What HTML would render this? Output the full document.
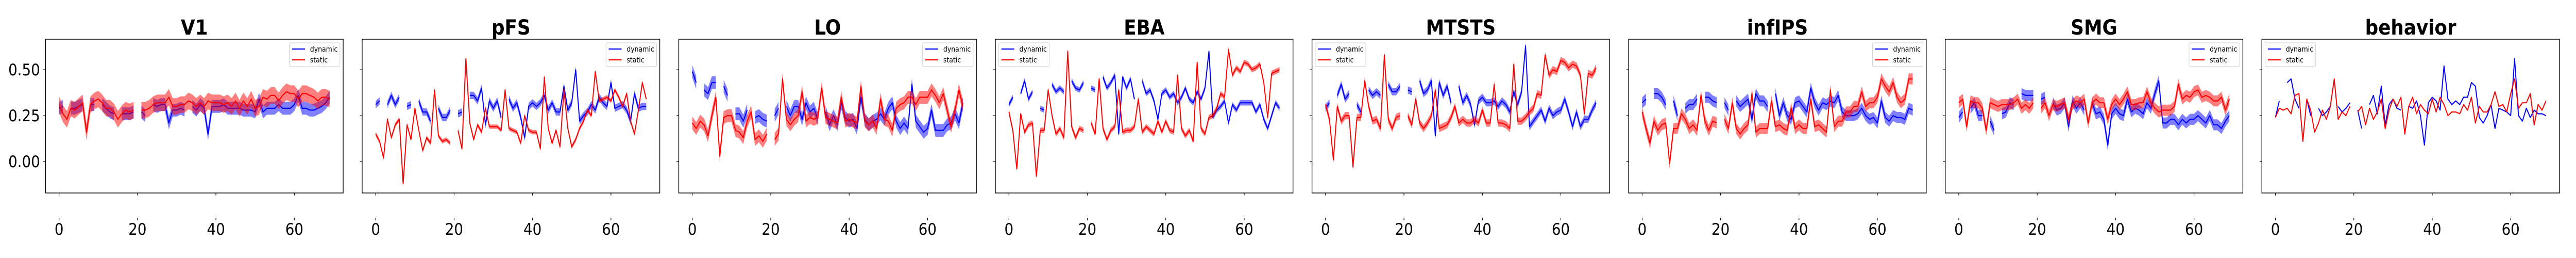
<!DOCTYPE html>
<html><head><meta charset="utf-8"><style>
html,body{margin:0;padding:0;background:#fff;overflow:hidden;width:100%;height:100%;}
svg{display:block;width:100vw;height:100vh;font-family:"DejaVu Sans","Liberation Sans",sans-serif;}
</style></head><body>
<svg id="chart" viewBox="0 0 5600 500" preserveAspectRatio="none" xmlns="http://www.w3.org/2000/svg"></svg>
<script>
const titles = ["V1","pFS","LO","EBA","MTSTS","infIPS","SMG","behavior"];
const yTicks = [0, 0.25, 0.5];
const yTickLabels = ["0.00","0.25","0.50"];
const xTicks = [0, 20, 40, 60];
const errDyn = [0.035,0.02,0.035,0.015,0.02,0.03,0.03,0];
const errSta = [0.045,0.012,0.035,0.015,0.02,0.03,0.03,0];
const legendLeft = [false,false,false,true,true,false,false,true];
const n = null;
const dyn0 = [.29,.30,n,.29,.29,.30,.31,n,.31,.31, n,.31,.29,.27,.26,n,.26,.26,.26,.27, n,.27,.25,n,.31,.30,.31,.31,.21,.28, .28,.29,.28,n,.30,.28,.31,.29,.15,.30, .30,.30,.31,.29,.29,.29,.29,.28,.28,.28, .27,.34,.27,.29,.29,.29,.31,.29,.29,.29, .31,.36,.29,.29,.28,.28,.29,.30,.32,.35];
const sta0 = [.31,.26,.23,.29,.28,.30,.32,.16,.31,.33, .34,.32,.29,.29,.27,.23,.26,.28,.27,.28, n,.28,.28,.29,.31,.32,.32,.32,.35,.30, .30,.31,.31,.33,.32,.30,.32,.30,.33,.32, .32,.32,.31,.32,.30,.33,.29,.33,.30,.34, .29,.30,.35,.34,.36,.36,.33,.36,.38,.37, .37,.34,.37,.37,.36,.35,.33,.35,.35,.34];
const dyn1 = [.31,.33,n,.31,.36,.31,.35,n,.30,.31, n,.33,.27,.27,.22,n,.29,.24,.24,.28, n,.26,.27,n,.36,.36,.33,.40,.20,.33, .29,.33,.24,n,.34,.29,.32,.24,.13,.30, .32,.30,.32,.36,.28,.32,.27,.27,.41,.28, .32,.50,.22,.25,.27,.31,.28,.35,.32,.30, .43,.29,.30,.31,.28,.22,.37,.29,.30,.30];
const sta1 = [.15,.11,.02,.23,.13,.20,.23,-.12,.20,.12, .29,.17,.06,.13,.10,.39,.14,.11,.12,.10, n,.17,.07,.56,.21,.12,.20,.16,.29,.19, .19,.19,.17,.39,.18,.17,.16,.10,.25,.17, .16,.16,.07,.46,.18,.10,.17,.08,.39,.18, .08,.12,.18,.22,.28,.25,.49,.33,.34,.35, .33,.39,.35,.30,.37,.22,.15,.28,.43,.34];
const dyn2 = [.49,.43,n,.39,.37,.43,.43,n,.41,.36, n,.26,.26,.22,.28,n,.24,.25,.23,.22, n,.25,.29,n,.30,.25,.30,.30,.23,.32, .27,.29,.23,n,.27,.20,.25,.20,.32,.24, .22,.23,.18,.35,.23,.20,.22,.23,.26,.23, .29,.32,.22,.18,.21,.18,.42,.22,.19,.16, .18,.28,.17,.17,.17,.20,.21,.26,.21,.32];
const sta2 = [.21,.18,.22,.20,.14,.25,.35,.03,.24,.25, .25,.17,.16,.13,.22,.27,.12,.14,.11,.15, n,.12,.15,.45,.23,.20,.23,.25,.38,.22, .24,.23,.24,.40,.24,.23,.22,.21,.35,.22, .23,.22,.21,.41,.22,.20,.22,.18,.34,.23, .22,.17,.29,.31,.32,.35,.35,.31,.35,.35, .35,.39,.36,.32,.37,.28,.19,.28,.39,.30];
const dyn3 = [.31,.35,n,.37,.44,.34,.38,n,.29,.28, n,.42,.38,.40,.38,n,.44,.40,.39,.43, n,.40,.39,n,.46,.40,.43,.47,.15,.46, .40,.45,.34,n,.44,.37,.39,.33,.23,.37, .39,.35,.37,.32,.35,.40,.34,.32,.38,.34, .40,.60,.24,.28,.30,.33,.21,.31,.28,.32, .32,.32,.32,.27,.31,.23,.18,.25,.32,.29];
const sta3 = [.27,.17,-.04,.26,.16,.20,.21,-.08,.17,.17, .39,.25,.15,.18,.13,.60,.19,.13,.18,.17, n,.21,.15,.45,.18,.12,.17,.19,.39,.16, .17,.17,.19,.34,.16,.19,.17,.15,.22,.16, .22,.17,.16,.47,.18,.14,.17,.11,.54,.18, .15,.24,.25,.29,.37,.35,.61,.47,.51,.49, .54,.53,.50,.51,.53,.43,.24,.48,.49,.50];
const dyn4 = [.29,.32,n,.36,.42,.34,.37,n,.31,.27, n,.39,.36,.38,.36,n,.42,.38,.38,.41, n,.39,.38,n,.44,.37,.39,.44,.14,.43, .36,.41,.32,n,.41,.32,.36,.31,.20,.33, .35,.32,.32,.33,.30,.33,.31,.27,.38,.31, .38,.63,.19,.22,.25,.28,.22,.29,.25,.27, .28,.34,.27,.19,.27,.19,.23,.23,.28,.32];
const sta4 = [.31,.23,.01,.30,.22,.25,.25,-.03,.24,.24, .44,.30,.22,.23,.18,.58,.23,.18,.24,.25, n,.25,.20,.34,.21,.18,.21,.25,.39,.18, .19,.20,.24,.30,.21,.23,.21,.21,.23,.21, .28,.21,.21,.42,.21,.21,.20,.18,.53,.22, .22,.24,.27,.29,.37,.36,.58,.47,.50,.49, .55,.54,.51,.53,.52,.47,.26,.48,.47,.51];
const dyn5 = [.32,.34,n,.37,.37,.35,.31,n,.33,.25, n,.29,.31,.31,.34,n,.35,.35,.33,.32, n,.32,.28,n,.33,.30,.32,.34,.23,.37, .33,.33,.30,n,.37,.25,.32,.25,.23,.32, .33,.30,.27,.40,.32,.28,.32,.31,.33,.32, .36,.27,.25,.25,.25,.26,.29,.25,.23,.24, .21,.33,.24,.22,.25,.24,.24,.23,.29,.28];
const sta5 = [.27,.18,.10,.22,.17,.20,.21,-.01,.18,.18, .26,.23,.18,.20,.17,.36,.22,.17,.22,.21, n,.23,.18,.32,.18,.15,.18,.20,.37,.16, .18,.18,.18,.33,.19,.20,.18,.17,.29,.18, .20,.18,.18,.34,.19,.20,.18,.16,.39,.19, .22,.22,.27,.27,.30,.30,.38,.30,.32,.32, .35,.45,.41,.38,.43,.35,.32,.34,.45,.45];
const dyn6 = [.24,.27,n,.29,.32,.25,.25,n,.22,.17, n,.26,.27,.32,.31,n,.37,.36,.36,.36, n,.34,.35,n,.32,.28,.29,.32,.19,.33, .29,.32,.28,n,.32,.26,.27,.23,.09,.26, .29,.26,.25,.34,.27,.29,.28,.26,.32,.29, .37,.44,.21,.21,.23,.23,.20,.23,.21,.23, .23,.25,.23,.21,.25,.20,.20,.18,.22,.25];
const sta6 = [.32,.34,.19,.33,.32,.32,.29,.17,.32,.31, .30,.31,.31,.31,.32,.34,.29,.31,.29,.32, n,.29,.32,.25,.31,.30,.31,.32,.23,.31, .33,.32,.34,.21,.32,.34,.32,.32,.23,.31, .34,.31,.34,.38,.31,.31,.32,.32,.38,.32, .29,.27,.28,.28,.28,.30,.42,.34,.36,.35, .38,.39,.35,.36,.35,.33,.33,.35,.28,.34];
const dyn7 = [.24,.33,n,.43,.45,.34,.29,n,.34,.25, n,.29,.25,.27,.30,n,.30,.27,.29,.32, n,.28,.18,n,.31,.36,.26,.41,.20,.31, .34,.29,.28,n,.30,.29,.33,.25,.09,.32, .35,.33,.28,.52,.34,.31,.33,.31,.35,.35, .43,.41,.24,.21,.25,.31,.18,.29,.28,.27, .25,.56,.25,.22,.29,.24,.28,.26,.26,.25];
const sta7 = [.24,.29,.28,.29,.26,.36,.37,.11,.34,.28, .16,.21,.28,.23,.30,.45,.23,.27,.25,.30, n,.27,.30,.20,.29,.23,.27,.34,.18,.28, .34,.30,.35,.15,.30,.35,.26,.31,.28,.26, .34,.27,.35,.31,.25,.27,.27,.26,.31,.28, .35,.21,.30,.27,.27,.31,.38,.30,.31,.27, .37,.45,.29,.32,.32,.37,.20,.31,.28,.33];
const dynSeries = [dyn0,dyn1,dyn2,dyn3,dyn4,dyn5,dyn6,dyn7];
const staSeries = [sta0,sta1,sta2,sta3,sta4,sta5,sta6,sta7];

const NS = "http://www.w3.org/2000/svg";
const svg = document.getElementById("chart");
const PANEL_W = 647, TOP = 76, BOTTOM = 374, PITCH = 688.3, FIRST = 99;
const X_MIN = -3.45, X_MAX = 72.45, Y_MIN = -0.171, Y_MAX = 0.666;
function mk(tag, attrs, parent){ const e=document.createElementNS(NS,tag); for(const k in attrs) e.setAttribute(k,attrs[k]); (parent||svg).appendChild(e); return e; }
function yScale(v){ return BOTTOM - (v - Y_MIN)/(Y_MAX - Y_MIN)*(BOTTOM-TOP); }
function xScale(L,i){ return L + (i - X_MIN)/(X_MAX - X_MIN)*PANEL_W; }
function segments(arr){ const segs=[]; let cur=[]; arr.forEach((v,i)=>{ if(v===null){ if(cur.length) segs.push(cur); cur=[]; } else cur.push(i); }); if(cur.length) segs.push(cur); return segs; }

titles.forEach((t,k)=>{
  const L = FIRST + PITCH*k;
  const g = mk("g",{});
  
  
  const title = mk("text",{x:L+PANEL_W/2,y:67,"text-anchor":"middle","font-size":40,"font-weight":"bold",fill:"#000"},g);
  title.textContent = t;
  
  
  const clipId = "clip"+k;
  const cp = mk("clipPath",{id:clipId},g);
  mk("rect",{x:L,y:TOP,width:PANEL_W,height:BOTTOM-TOP},cp);
  const plot = mk("g",{"clip-path":"url(#"+clipId+")"},g);
  const series = [[dynSeries[k],errDyn[k],"#0000ff","dynamic"],[staSeries[k],errSta[k],"#ff0000","static"]];
  series.forEach(([arr,err,col,name])=>{
    segments(arr).forEach(seg=>{
      if(err>0){
        const up = seg.map(i=>xScale(L,i).toFixed(1)+","+yScale(arr[i]+err).toFixed(1));
        const dn = seg.slice().reverse().map(i=>xScale(L,i).toFixed(1)+","+yScale(arr[i]-err).toFixed(1));
        const band = mk("polygon",{points:up.concat(dn).join(" "),fill:col,"fill-opacity":0.5,stroke:"none"},plot);
        
        
      }
      const pts = seg.map(i=>xScale(L,i).toFixed(1)+","+yScale(arr[i]).toFixed(1)).join(" ");
      const line = mk("polyline",{points:pts,fill:"none",stroke:col,"stroke-width":2.2,"stroke-linejoin":"round"},plot);
      
      
    });
  });
  const frame = mk("rect",{x:L,y:TOP,width:PANEL_W,height:BOTTOM-TOP,fill:"none",stroke:"#000","stroke-width":1.5},g);
  
  
  yTicks.forEach((v,j)=>{
    const y = yScale(v);
    mk("line",{x1:L-5,x2:L,y1:y,y2:y,stroke:"#000","stroke-width":1.2},g);
    if(k===0){
      const lab = mk("text",{x:L-12,y:y+11,"text-anchor":"end","font-size":31,fill:"#000"},g);
      lab.textContent = yTickLabels[j];
      
      
    }
  });
  xTicks.forEach(v=>{
    const x = xScale(L,v);
    mk("line",{x1:x,x2:x,y1:BOTTOM,y2:BOTTOM+5,stroke:"#000","stroke-width":1.2},g);
    mk("line",{x1:x,x2:x,y1:422,y2:427,stroke:"#000","stroke-width":1.2},g);
    const lab = mk("text",{x:x,y:455,"text-anchor":"middle","font-size":31,fill:"#000"},g);
    lab.textContent = String(v);
    
    
  });
  const lx = legendLeft[k] ? L+7 : L+PANEL_W-117;
  const lg = mk("g",{},g);
  
  
  mk("rect",{x:lx,y:83,width:110,height:46,rx:3,fill:"#fff","fill-opacity":0.8,stroke:"#ccc","stroke-width":1},lg);
  [["dynamic","#0000ff",95],["static","#ff0000",116]].forEach(([nm,col,y])=>{
    mk("line",{x1:lx+6,x2:lx+34,y1:y,y2:y,stroke:col,"stroke-width":2.2},lg);
    const tx = mk("text",{x:lx+45,y:y+5,"font-size":14,fill:"#000"},lg);
    tx.textContent = nm;
    
    
  });
});
</script>
</body></html>
